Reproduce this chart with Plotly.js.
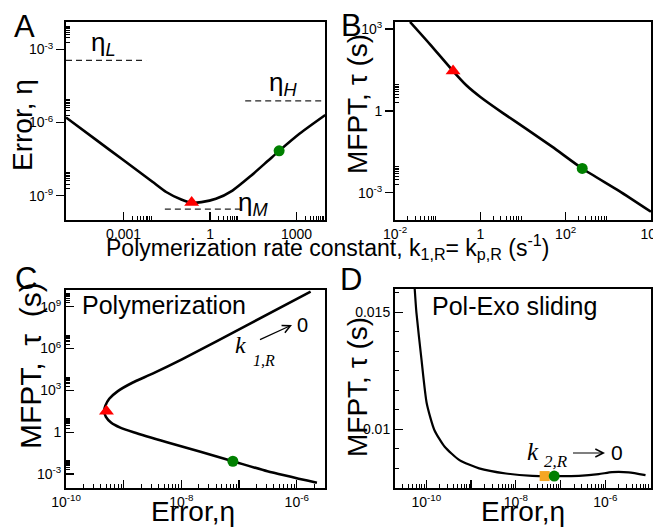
<!DOCTYPE html>
<html><head><meta charset="utf-8">
<script src="https://cdn.plot.ly/plotly-3.0.1.min.js"></script>
<style>html,body{margin:0;padding:0;background:#fff}#chart{width:653px;height:529px}</style>
</head><body><div id="chart"></div>
<script>
// ---------- Panel A: error vs polymerization rate constant ----------
const kA   = [1e-5, 1e-4, 1e-3, 1e-2, 3e-2, 0.1, 0.23, 0.5, 1.6, 6, 25, 100, 250, 1300, 1e4];
const etaA = [1.62e-6, 2.14e-7, 2.82e-8, 3.72e-9, 1.41e-9, 6.9e-10, 5.1e-10, 5.4e-10, 7.4e-10, 1.62e-9, 6.2e-9, 2.63e-8, 6.9e-8, 3.55e-7, 2.04e-6];
const triA = {k: [0.23], eta: [5.2e-10]};
const dotA = {k: [250], eta: [6.9e-8]};
const etaL = 3.6e-4, kL = [1e-5, 6e-3];
const etaH = 7.8e-6, kH = [16.6, 1e4];
const etaM = 2.8e-10, kM = [0.027, 11];
const tickA_x = [1e-3, 1, 1e3], tickA_xText = ['0.001', '1', '1000'];
const tickA_y = [1e-9, 1e-6, 1e-3], tickA_yText = ['10<sup>-9</sup>', '10<sup>-6</sup>', '10<sup>-3</sup>'];

// ---------- Panel B: MFPT vs polymerization rate constant ----------
const kB   = [0.0224, 0.066, 0.229, 0.468, 1, 3.39, 11.7, 49, 245, 1780, 1e4];
const tauB = [1820, 275, 28.8, 8.7, 3.24, 0.83, 0.224, 0.0479, 0.00776, 0.00117, 2.0e-4];
const triB = {k: [0.229], tau: [28.8]};
const dotB = {k: [245], tau: [0.0078]};
const tickB_x = [1e-2, 1, 1e2, 1e4], tickB_xText = ['10<sup>-2</sup>', '1', '10<sup>2</sup>', '10<sup>4</sup>'];
const tickB_y = [1e-3, 1, 1e3], tickB_yText = ['10<sup>-3</sup>', '1', '10<sup>3</sup>'];

// ---------- Panel C: MFPT vs error (polymerization) ----------
const etaC = [1.74e-6, 1.58e-7, 1.02e-8, 3.16e-9, 1.41e-9, 7.9e-10, 5.6e-10, 4.8e-10, 4.57e-10, 4.9e-10, 6.0e-10, 8.7e-10, 1.48e-9, 5.6e-9, 2.14e-8, 7.8e-8, 3.1e-7, 2.24e-6];
const tauC = [1.2e10, 6.5e7, 1.66e5, 1.58e4, 3550, 890, 251, 79, 31.6, 12.6, 5.0, 2.14, 1.0, 0.19, 0.039, 0.0083, 0.00158, 2.34e-4];
const triC = {eta: [5.0e-10], tau: [31.6]};
const dotC = {eta: [7.8e-8], tau: [0.0083]};
const tickC_x = [1e-10, 1e-9, 1e-8, 1e-7, 1e-6], tickC_xText = ['10<sup>-10</sup>', ' ', '10<sup>-8</sup>', ' ', '10<sup>-6</sup>'];
const tickC_y = [1e-3, 1, 1e3, 1e6, 1e9], tickC_yText = ['10<sup>-3</sup>', '1', '10<sup>3</sup>', '10<sup>6</sup>', '10<sup>9</sup>'];

// ---------- Panel D: MFPT vs error (Pol-Exo sliding) ----------
const etaD = [5.5e-11, 6.0e-11, 7.8e-11, 1.02e-10, 1.51e-10, 2.57e-10, 5.5e-10, 1.51e-9, 6.0e-9, 2.34e-8, 6.5e-8, 2.57e-7, 7.1e-7, 1.41e-6, 3.3e-6, 7.9e-6];
const tauD = [0.0160, 0.0150, 0.01298, 0.01112, 0.00998, 0.00926, 0.00869, 0.00834, 0.00812, 0.00802, 0.00801, 0.00802, 0.00809, 0.00818, 0.00817, 0.00805];
const sqD  = {eta: [4.4e-8], tau: [0.00801]};
const dotD = {eta: [7.2e-8], tau: [0.00801]};
const tickD_x = [1e-10, 1e-9, 1e-8, 1e-7, 1e-6, 1e-5], tickD_xText = ['10<sup>-10</sup>', ' ', '10<sup>-8</sup>', ' ', '10<sup>-6</sup>', ' '];
const tickD_y = [0.01, 0.015], tickD_yText = ['0.01', '0.015'];

// ---------- layout helpers ----------
const W = 653, H = 529;
const px = x => x / W, py = y => 1 - y / H;
const FONT = 'Liberation Sans, Arial, sans-serif';
const SERIF = 'Liberation Serif, Times New Roman, serif';
const RED = '#ff0000', GREEN = '#008000', ORANGE = '#f5a623';
const NB = '\u00a0';

function lineTrace(x, y, xa, ya, w) {
  return {x, y, xaxis: xa, yaxis: ya, mode: 'lines', type: 'scatter',
    line: {color: '#000', width: w || 2.6, shape: 'spline', smoothing: 0.6}, hoverinfo: 'skip'};
}
function dash(x, yv, xa, ya) {
  return {x, y: [yv, yv], xaxis: xa, yaxis: ya, mode: 'lines', type: 'scatter',
    line: {color: '#222', width: 1.4, dash: '6px,4px'}, hoverinfo: 'skip'};
}
function mark(x, y, xa, ya, symbol, color, size) {
  return {x, y, xaxis: xa, yaxis: ya, mode: 'markers', type: 'scatter',
    marker: {symbol, color, size, line: {width: 0}}, hoverinfo: 'skip'};
}

const traces = [
  lineTrace(kA, etaA, 'x', 'y'),
  dash(kL, etaL, 'x', 'y'), dash(kH, etaH, 'x', 'y'), dash(kM, etaM, 'x', 'y'),
  mark(triA.k, triA.eta, 'x', 'y', 'triangle-up', RED, 13),
  mark(dotA.k, dotA.eta, 'x', 'y', 'circle', GREEN, 11),

  lineTrace(kB, tauB, 'x2', 'y2'),
  mark(triB.k, triB.tau, 'x2', 'y2', 'triangle-up', RED, 13),
  mark(dotB.k, dotB.tau, 'x2', 'y2', 'circle', GREEN, 11),

  lineTrace(etaC, tauC, 'x3', 'y3'),
  mark(triC.eta, triC.tau, 'x3', 'y3', 'triangle-up', RED, 13),
  mark(dotC.eta, dotC.tau, 'x3', 'y3', 'circle', GREEN, 11),

  lineTrace(etaD, tauD, 'x4', 'y4', 2.2),
  mark(sqD.eta, sqD.tau, 'x4', 'y4', 'square', ORANGE, 10),
  mark(dotD.eta, dotD.tau, 'x4', 'y4', 'circle', GREEN, 11)
];

function minorVals(bases) {
  const out = [];
  bases.forEach(b => { for (let m = 2; m <= 9; m++) out.push(m * b); });
  return out;
}
function minorArr(vals) {
  return {tickmode: 'array', tickvals: vals, ticks: 'inside', ticklen: 4, tickcolor: '#000', tickwidth: 1};
}

function axis(dom, extra) {
  return Object.assign({
    domain: dom, showline: true, mirror: true, linecolor: '#000', linewidth: 2,
    showgrid: false, zeroline: false, ticklen: 8, tickwidth: 1.2, tickcolor: '#000',
    tickmode: 'array', tickfont: {family: FONT, size: 14, color: '#000'}, fixedrange: true,
    ticklabeloverflow: 'allow'
  }, extra);
}

const xA = [px(66), px(325)], xB = [px(395), px(651)];
const yTop = [py(220), py(22)], yBot = [py(488), py(290)];

const layout = {
  width: W, height: H, margin: {l: 0, r: 0, t: 0, b: 0},
  paper_bgcolor: '#fff', plot_bgcolor: '#fff', showlegend: false,
  font: {family: FONT, color: '#000'},
  xaxis: axis(xA, {type: 'log', range: [-5.0, 3.99], tickvals: tickA_x, ticktext: tickA_xText,
    ticks: 'inside', anchor: 'y', minor: minorArr(minorVals([1e-3, 1, 1e3]))}),
  yaxis: axis(yTop, {type: 'log', range: [-10.0, -1.87], tickvals: tickA_y, ticktext: tickA_yText,
    ticks: 'outside', anchor: 'x', minor: minorArr(minorVals([1e-9, 1e-6, 1e-3]))}),
  xaxis2: axis(xB, {type: 'log', range: [-2.002, 4.002], tickvals: tickB_x, ticktext: tickB_xText,
    ticks: 'inside', anchor: 'y2', minor: minorArr(minorVals([1e-2, 1, 1e2]))}),
  yaxis2: axis(yTop, {type: 'log', range: [-4.0, 3.26], tickvals: tickB_y, ticktext: tickB_yText,
    ticks: 'outside', anchor: 'x2', minor: minorArr(minorVals([1e-3, 1, 1e3]))}),
  xaxis3: axis(xA, {type: 'log', range: [-10.002, -5.51], tickvals: tickC_x, ticktext: tickC_xText,
    ticks: 'inside', anchor: 'y3', minor: minorArr(minorVals([1e-10, 1e-9, 1e-8, 1e-7, 1e-6]))}),
  yaxis3: axis(yBot, {type: 'log', range: [-4.0, 10.2], tickvals: tickC_y, ticktext: tickC_yText,
    ticks: 'inside', anchor: 'x3', minor: minorArr(minorVals([1e-3, 1, 1e3, 1e6, 1e9]))}),
  xaxis4: axis(xB, {type: 'log', range: [-10.7, -4.98], tickvals: tickD_x, ticktext: tickD_xText,
    ticks: 'inside', anchor: 'y4', minor: minorArr(minorVals([1e-11, 1e-10, 1e-9, 1e-8, 1e-7, 1e-6]))}),
  yaxis4: axis([py(488), py(289)], {type: 'linear', range: [0.0075, 0.016], tickvals: tickD_y, ticktext: tickD_yText,
    ticks: 'inside', anchor: 'x4',
    minor: {tickmode: 'linear', tick0: 0.01, dtick: 0.005 / 6, ticks: 'inside', ticklen: 4, tickcolor: '#000', tickwidth: 1}}),
  annotations: []
};

function txt(text, x, y, size, extra) {
  return Object.assign({text, x: px(x), y: py(y), xref: 'paper', yref: 'paper', showarrow: false,
    xanchor: 'center', yanchor: 'middle', font: {family: FONT, size, color: '#000'}}, extra || {});
}
const A = layout.annotations;
// panel letters
A.push(txt('A', 24, 26, 31), txt('B', 351, 25, 31), txt('C', 26, 278, 31), txt('D', 351, 279, 31));
// axis titles
A.push(txt('Polymerization rate constant, k<sub>1,R</sub>= k<sub>p,R</sub> (s<sup>-1</sup>)', 328, 247, 23));
A.push(txt('Error, η', 22, 125, 28, {textangle: -90}));
A.push(txt('MFPT, τ (s)', 357, 104, 28, {textangle: -90}));
A.push(txt('MFPT,' + NB + ' τ' + NB + ' (s)', 31, 366, 30, {textangle: -90}));
A.push(txt('MFPT, τ (s)', 357, 387, 28, {textangle: -90}));
A.push(txt('Error,η', 193, 511, 28), txt('Error,η', 523, 511, 28));
// in-panel labels
A.push(txt('Polymerization', 164, 305, 25), txt('Pol-Exo sliding', 514, 306, 25));
A.push(txt('η<sub><i>L</i></sub>', 103, 43, 26), txt('η<sub><i>H</i></sub>', 283, 84, 26), txt('η<sub><i>M</i></sub>', 253, 203, 26));
// k1,R -> 0
A.push(txt('<i>k</i>', 240, 345, 24, {font: {family: SERIF, size: 24, color: '#000'}}));
A.push(txt('<i>1,R</i>', 264, 360, 16, {font: {family: SERIF, size: 16, color: '#000'}}));
A.push({text: ' ', x: px(292), y: py(325), xref: 'paper', yref: 'paper', showarrow: true,
  ax: -35, ay: 16, arrowhead: 5, arrowsize: 1.3, arrowwidth: 1.2, arrowcolor: '#000'});
A.push(txt('0', 302, 325, 20));
// k2,R -> 0
A.push(txt('<i>k</i>', 533, 451, 25, {font: {family: SERIF, size: 25, color: '#000'}}));
A.push(txt('<i>2,R</i>', 556, 461, 17, {font: {family: SERIF, size: 17, color: '#000'}}));
A.push({text: ' ', x: px(605), y: py(453), xref: 'paper', yref: 'paper', showarrow: true,
  ax: -35, ay: 0, arrowhead: 5, arrowsize: 1.3, arrowwidth: 1.2, arrowcolor: '#000'});
A.push(txt('0', 617, 452, 21));

Plotly.newPlot('chart', traces, layout, {staticPlot: true, displayModeBar: false});
</script>
</body></html>
